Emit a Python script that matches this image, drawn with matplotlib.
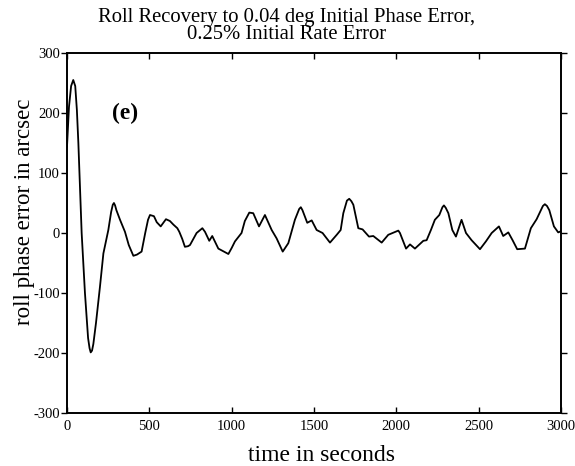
import numpy as np
import matplotlib
matplotlib.use('Agg')
import matplotlib.pyplot as plt

# Digitised roll phase error trace (time in s, error in arcsec)
time_s = [0, 12, 25, 38, 50, 60, 69, 89, 109, 128, 137, 144, 152, 160, 176, 200, 221, 251,
          268, 278, 285, 292, 300, 322, 352, 375, 403, 425, 453, 475, 492, 504, 528, 545,
          569, 601, 625, 646, 670, 682, 700, 716, 735, 747, 787, 822, 838, 864, 882, 919,
          953, 980, 1000, 1020, 1060, 1080, 1107, 1131, 1166, 1202, 1243, 1273, 1310, 1344,
          1384, 1410, 1420, 1430, 1459, 1486, 1516, 1552, 1597, 1638, 1662, 1678, 1700, 1714,
          1727, 1739, 1769, 1795, 1834, 1860, 1911, 1951, 2012, 2022, 2059, 2083, 2113, 2164,
          2184, 2210, 2234, 2261, 2280, 2289, 2300, 2316, 2340, 2362, 2396, 2423, 2457, 2508,
          2544, 2579, 2623, 2649, 2680, 2706, 2734, 2781, 2817, 2852, 2890, 2902, 2915, 2929,
          2957, 2983, 3000]
phase_err = [144, 210, 245, 255, 245, 205, 150, 0, -100, -175, -192, -199, -196, -185, -150,
             -90, -34, 5, 35, 47, 50, 46, 38, 22, 2, -20, -38, -36, -31, 0, 22, 30, 28, 18,
             11, 23, 20, 14, 8, 2, -10, -23, -22, -20, 0, 8, 2, -13, -5, -26,
             -31, -35, -25, -14, 0, 20, 34, 33, 11, 30, 5, -9, -31, -17,
             22, 40, 43, 38, 17, 21, 5, 0, -16, -3, 5, 33, 54, 57,
             53, 47, 8, 6, -6, -5, -16, -3, 4, 0, -26, -19, -26, -13,
             -12, 5, 22, 30, 43, 46, 42, 33, 5, -6, 22, 0, -12, -27,
             -14, 0, 11, -5, 1, -12, -27, -26, 8, 23, 45, 48, 45, 38,
             11, 1, 3]

x_ticks = [0, 500, 1000, 1500, 2000, 2500, 3000]
y_ticks = [-300, -200, -100, 0, 100, 200, 300]

plt.rcParams['font.family'] = ['Liberation Serif', 'DejaVu Serif']
plt.rcParams['axes.unicode_minus'] = False

fig = plt.figure(figsize=(5.75, 4.66), dpi=100)
ax = fig.add_axes([67 / 575, 1 - 413 / 466, (561 - 67) / 575, (413 - 53) / 466])

ax.plot(time_s, phase_err, color='black', linewidth=1.3, solid_joinstyle='round')

ax.set_xlim(0, 3000)
ax.set_ylim(-300, 300)
ax.set_xticks(x_ticks)
ax.set_yticks(y_ticks)
ax.tick_params(axis='x', direction='in', top=True, length=4, width=1, labelsize=10.5, pad=5)
ax.tick_params(axis='y', direction='out', length=4, width=1, labelsize=10.5, pad=1)
ax.tick_params(axis='y', which='both', right=True)
for s in ax.spines.values():
    s.set_linewidth(1.4)

ax.text(352, 200, '(e)', fontsize=17, fontweight='bold', ha='center', va='center')

ax.set_xlabel('time in seconds', fontsize=17)
ax.xaxis.set_label_coords(0.516, -0.117)
ax.xaxis.label.set_va('center')
ax.set_ylabel('roll phase error in arcsec', fontsize=16.5)
ax.yaxis.set_label_coords(-0.087, 0.558)
ax.yaxis.label.set_va('center')
fig.text(0.499, 0.944, 'Roll Recovery to 0.04 deg Initial Phase Error,\n0.25% Initial Rate Error',
         ha='center', va='center', fontsize=14.9, linespacing=0.9)

fig.savefig('out.png', dpi=100)
